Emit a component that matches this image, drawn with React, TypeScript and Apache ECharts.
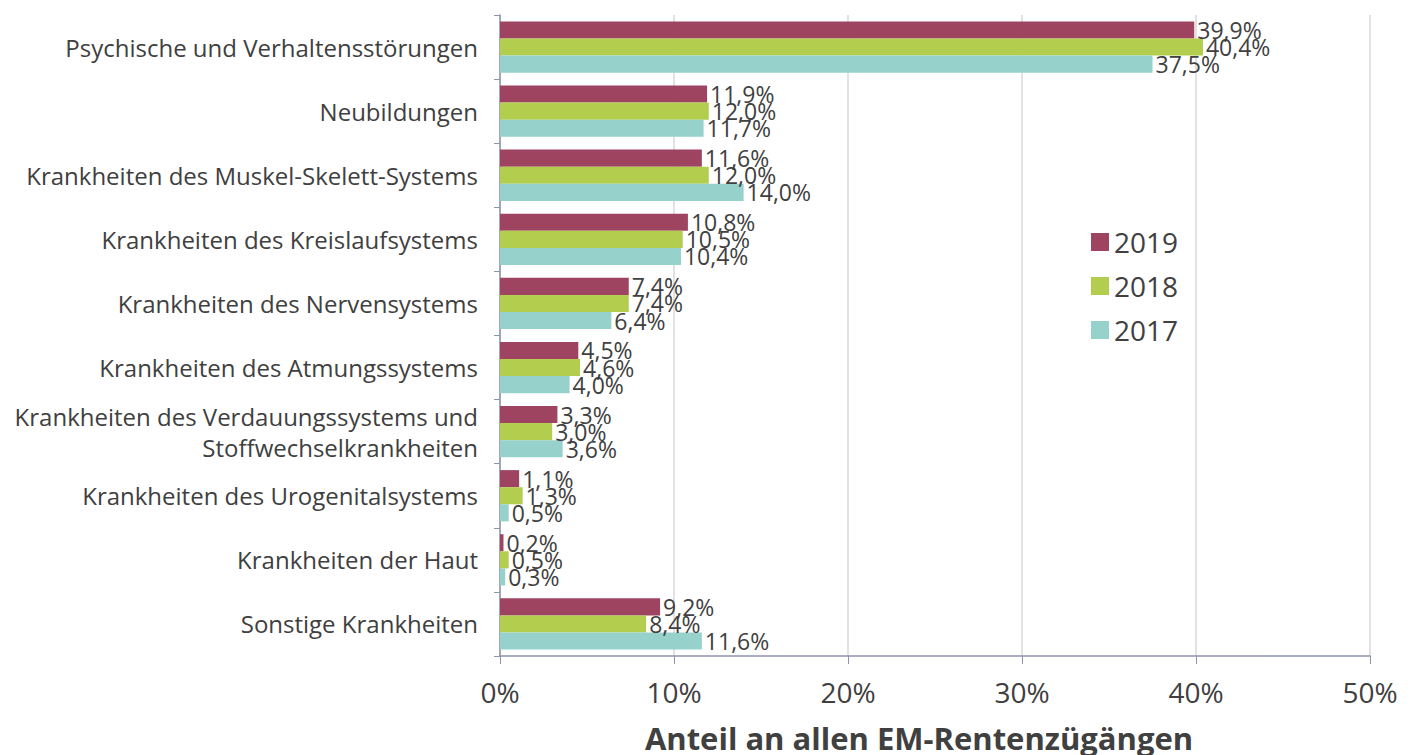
import React, { useEffect, useRef } from "react";
import * as echarts from "echarts";

const categories = [
  "Psychische und Verhaltensstörungen",
  "Neubildungen",
  "Krankheiten des Muskel-Skelett-Systems",
  "Krankheiten des Kreislaufsystems",
  "Krankheiten des Nervensystems",
  "Krankheiten des Atmungssystems",
  "Krankheiten des Verdauungssystems und\nStoffwechselkrankheiten",
  "Krankheiten des Urogenitalsystems",
  "Krankheiten der Haut",
  "Sonstige Krankheiten",
];
const values2019 = [39.9, 11.9, 11.6, 10.8, 7.4, 4.5, 3.3, 1.1, 0.2, 9.2];
const values2018 = [40.4, 12.0, 12.0, 10.5, 7.4, 4.6, 3.0, 1.3, 0.5, 8.4];
const values2017 = [37.5, 11.7, 14.0, 10.4, 6.4, 4.0, 3.6, 0.5, 0.3, 11.6];
const seriesNames = ["2019", "2018", "2017"];
const colors = ["#9E4461", "#B3CD4E", "#96D1CB"];
const axisTitle = "Anteil an allen EM-Rentenzügängen";

const FONT = "'Open Sans', 'Noto Sans', sans-serif";
const TEXT = "#404040";

export default function App() {
  const ref = useRef<HTMLDivElement>(null);
  useEffect(() => {
    document.body.style.margin = "0";
    const chart = echarts.init(ref.current!, null, { renderer: "svg" });
    const data = [values2019, values2018, values2017];
    chart.setOption({
      animation: false,
      textStyle: { fontFamily: FONT, color: TEXT },
      grid: {
        left: 500,
        top: 15,
        width: 870,
        height: 641,
        containLabel: false,
        outerBoundsMode: "none",
      },
      legend: {
        orient: "vertical",
        left: 1086,
        top: 223,
        itemWidth: 18,
        itemHeight: 18,
        itemGap: 16,
        itemTextGap: 8,
        icon: "rect",
        textStyle: { fontFamily: FONT, fontSize: 28, color: TEXT },
        data: seriesNames,
      },
      xAxis: {
        type: "value",
        min: 0,
        max: 50,
        interval: 10,
        axisLine: { show: true, lineStyle: { color: "#8C95AD", width: 1.5 } },
        axisTick: { show: true, length: 8, lineStyle: { color: "#8C95AD" } },
        splitLine: { show: true, lineStyle: { color: "#D9D9D9", width: 1.5 } },
        axisLabel: {
          formatter: (v: number) => v + "%",
          fontFamily: FONT,
          fontSize: 28,
          color: TEXT,
          margin: 22,
        },
        name: axisTitle,
        nameLocation: "middle",
        nameGap: 66,
        nameTextStyle: {
          fontFamily: FONT,
          fontSize: 31,
          fontWeight: "bold",
          color: TEXT,
          padding: [0, 32, 0, 0],
        },
      },
      yAxis: {
        type: "category",
        inverse: true,
        data: categories,
        axisLine: { show: true, lineStyle: { color: "#8C95AD", width: 1.5 } },
        axisTick: { show: true, length: 6, lineStyle: { color: "#8C95AD" } },
        axisLabel: {
          fontFamily: FONT,
          fontSize: 24,
          color: TEXT,
          margin: 22,
          lineHeight: 31,
        },
      },
      series: seriesNames.map((name, i) => ({
        name,
        type: "bar",
        data: data[i],
        barGap: "0%",
        barCategoryGap: "20%",
        itemStyle: { color: colors[i] },
        label: {
          show: true,
          position: "right",
          distance: 3,
          fontFamily: FONT,
          fontSize: 23,
          color: TEXT,
          formatter: (p: any) => p.value.toFixed(1).replace(".", ",") + "%",
        },
      })),
    });
    return () => chart.dispose();
  }, []);
  return <div ref={ref} style={{ width: 1417, height: 755 }} />;
}
